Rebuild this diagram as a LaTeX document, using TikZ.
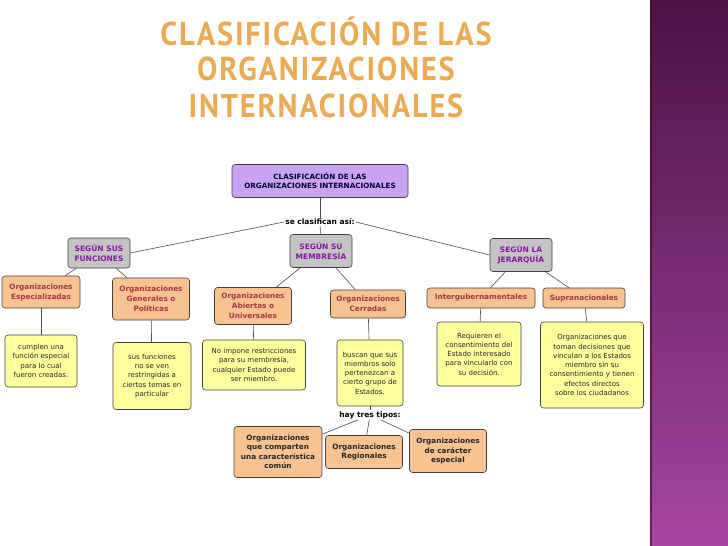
\documentclass[tikz,border=0pt]{standalone}
\usepackage{fontspec}
\setmainfont{DejaVu Sans}
\newfontfamily\titlefont{PT Sans}
\usetikzlibrary{positioning}
\definecolor{rootc}{HTML}{C9A3F2}
\definecolor{grayc}{HTML}{C4C4C4}
\definecolor{orc}{HTML}{F8C291}
\definecolor{yelc}{HTML}{FFFF9E}
\definecolor{purtxt}{HTML}{8A16A6}
\definecolor{redtxt}{HTML}{A8383E}
\definecolor{titc}{HTML}{EBAA55}
\tikzset{
  bx/.style={draw=black!75, line width=0.6pt, rounded corners=3pt, align=center, inner sep=1pt},
  rootbox/.style={bx, fill=rootc, text=black!80!blue, font=\fontsize{7.2}{9}\selectfont\bfseries},
  catbox/.style={bx, fill=grayc, text=purtxt, font=\fontsize{7.5}{10}\selectfont\bfseries},
  orbox/.style={bx, fill=orc, text=redtxt, font=\fontsize{7.3}{10}\selectfont\bfseries},
  orboxd/.style={bx, fill=orc, text=black!85, font=\fontsize{7.3}{9.5}\selectfont\bfseries},
  yebox/.style={bx, fill=yelc, text=black!85, font=\fontsize{7}{9.3}\selectfont},
  lbl/.style={font=\fontsize{7.5}{9}\selectfont\bfseries, inner sep=1pt},
  ln/.style={draw=black!70, line width=0.6pt},
  tit/.style={text=titc, draw=none, font=\titlefont\bfseries\fontsize{33}{33}\selectfont\addfontfeatures{LetterSpace=6}, xscale=0.92, transform shape}
}
\begin{document}
\begin{tikzpicture}[x=1pt,y=-1pt]
\useasboundingbox (0,0) rectangle (728,546);
\fill[white] (0,0) rectangle (728,546);
\shade[top color={rgb,255:red,74;green,18;blue,69}, bottom color={rgb,255:red,165;green,70;blue,160}] (650,0) rectangle (728,546);
\fill[black!60!purple, opacity=0.6] (650,0) rectangle (652,546);
% title
\node[tit] (t1) at (326,31) {CLASIFICACIÓN DE LAS};
\node[tit] (t2) at (326,69) {ORGANIZACIONES};
\node[tit] (t3) at (326,106) {INTERNACIONALES};
% nodes
\node[rootbox, minimum width=176pt, minimum height=33pt] (root) at (320,181) {CLASIFICACIÓN DE LAS\\ORGANIZACIONES INTERNACIONALES};
\node[lbl] (sc) at (320,222) {se clasifican así:};
\node[catbox, minimum width=62pt, minimum height=30pt] (s1) at (99,253) {SEGÚN SUS\\FUNCIONES};
\node[catbox, minimum width=62pt, minimum height=33pt] (s2) at (321,251) {SEGÚN SU\\MEMBRESÍA};
\node[catbox, minimum width=62pt, minimum height=33pt] (s3) at (521,255) {SEGÚN LA\\JERARQUÍA};
\node[orbox, minimum width=78pt, minimum height=32pt] (o1) at (41,292) {Organizaciones\\Especializadas};
\node[orbox, minimum width=77pt, minimum height=42pt] (o2) at (151,299) {Organizaciones\\Generales o\\Políticas};
\node[orbox, minimum width=77pt, minimum height=37pt] (o3) at (253,306) {Organizaciones\\Abiertas o\\Universales};
\node[orbox, minimum width=75pt, minimum height=28pt] (o4) at (368,304) {Organizaciones\\Cerradas};
\node[orbox, minimum width=108pt, minimum height=20pt] (o5) at (481,298) {Intergubernamentales};
\node[orbox, minimum width=82pt, minimum height=20pt] (o6) at (584,298) {Supranacionales};
\node[yebox, minimum width=72pt, minimum height=52pt] (y1) at (41,361) {cumplen una\\función especial\\para lo cual\\fueron creadas.};
\node[yebox, minimum width=78pt, minimum height=67pt] (y2) at (152,376) {sus funciones\\no se ven\\restringidas a\\ciertos temas en\\particular};
\node[yebox, minimum width=103pt, minimum height=50pt] (y3) at (254,365) {No impone restricciones\\para su membresía,\\cualquier Estado puede\\ser miembro.};
\node[yebox, minimum width=66pt, minimum height=66pt] (y4) at (370,373) {buscan que sus\\miembros solo\\pertenezcan a\\cierto grupo de\\Estados.};
\node[yebox, minimum width=84pt, minimum height=64pt] (y5) at (479,354) {Requieren el\\consentimiento del\\Estado interesado\\para vincularlo con\\su decisión.};
\node[yebox, minimum width=103pt, minimum height=86pt] (y6) at (592,365) {Organizaciones que\\toman decisiones que\\vinculan a los Estados\\miembro sin su\\consentimiento y tienen\\efectos directos\\sobre los ciudadanos};
\node[lbl] (ht) at (370,415) {hay tres tipos:};
\node[orboxd, minimum width=88pt, minimum height=51pt] (b1) at (278,452) {Organizaciones\\que comparten\\una característica\\común};
\node[orboxd, minimum width=77pt, minimum height=33pt] (b2) at (364,452) {Organizaciones\\Regionales};
\node[orboxd, minimum width=77pt, minimum height=43pt] (b3) at (448,451) {Organizaciones\\de carácter\\especial};
% connectors
\draw[ln] (root) -- (sc);
\draw[ln] (sc.west) -- (s1.east);
\draw[ln] (sc) -- (s2);
\draw[ln] (sc.east) -- (s3.west);
\draw[ln] (s1) -- (o1);
\draw[ln] (s1) -- (o2);
\draw[ln] (s2) -- (o3);
\draw[ln] (s2) -- (o4);
\draw[ln] (s3) -- (o5);
\draw[ln] (s3) -- (o6);
\draw[ln] (o1) -- (y1);
\draw[ln] (o2) -- (y2);
\draw[ln] (o3) -- (y3);
\draw[ln] (o4) -- (y4);
\draw[ln] (o5) -- (y5);
\draw[ln] (o6) -- (y6);
\draw[ln] (y4) -- (ht);
\draw[ln] (ht) -- (b1);
\draw[ln] (ht) -- (b2);
\draw[ln] (ht) -- (b3);
\end{tikzpicture}
\end{document}
